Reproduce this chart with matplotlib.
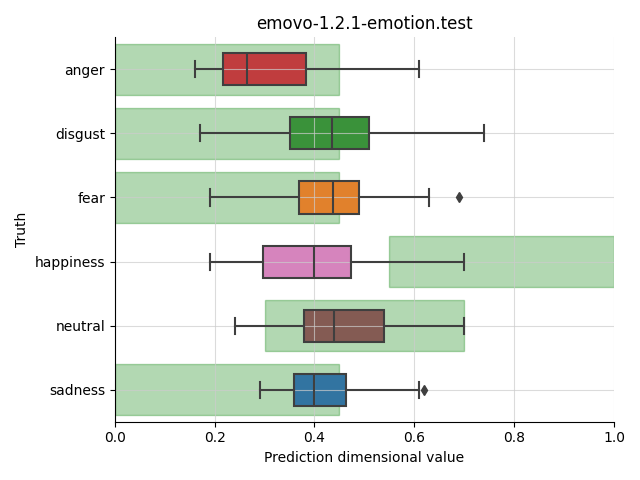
import matplotlib
matplotlib.use("Agg")
import matplotlib.pyplot as plt
import matplotlib.colors as mcolors
from matplotlib.patches import PathPatch
import colorsys

categories = ["anger", "disgust", "fear", "happiness", "neutral", "sadness"]
whislo = [0.160, 0.170, 0.190, 0.190, 0.240, 0.290]
q1 = [0.216, 0.351, 0.369, 0.296, 0.379, 0.359]
med = [0.264, 0.435, 0.438, 0.399, 0.439, 0.399]
q3 = [0.383, 0.510, 0.489, 0.473, 0.539, 0.464]
whishi = [0.609, 0.739, 0.629, 0.699, 0.699, 0.609]
fliers = [[], [], [0.689], [], [], [0.619]]
range_lo = [0.0, 0.0, 0.0, 0.55, 0.3, 0.0]
range_hi = [0.45, 0.45, 0.45, 1.0, 0.7, 0.45]
box_colors = ["tab:red", "tab:green", "tab:orange", "tab:pink", "tab:brown", "tab:blue"]


def desaturate(c, prop=0.75):
    r, g, b = mcolors.to_rgb(c)
    h, l, s = colorsys.rgb_to_hls(r, g, b)
    return colorsys.hls_to_rgb(h, l, s * prop)


fig, ax = plt.subplots(figsize=(6.4, 4.8), dpi=100)
pos = list(range(len(categories)))

ax.barh(pos, [h - l for l, h in zip(range_lo, range_hi)], left=range_lo, height=0.8,
        color="green", alpha=0.3, edgecolor="green", linewidth=1, zorder=1)

stats = []
for i, c in enumerate(categories):
    stats.append(dict(label=c, whislo=whislo[i], q1=q1[i], med=med[i], q3=q3[i],
                      whishi=whishi[i], fliers=fliers[i]))

lc = "#3f3f3f"
bp = ax.bxp(stats, positions=pos, vert=False, widths=0.5, patch_artist=True,
            boxprops=dict(edgecolor="none", linewidth=0),
            medianprops=dict(color=lc, linewidth=1.5),
            whiskerprops=dict(color=lc, linewidth=1.5),
            capprops=dict(color=lc, linewidth=1.5),
            flierprops=dict(marker="d", markerfacecolor=lc, markeredgecolor=lc, markersize=5),
            zorder=2)
for patch, col in zip(bp["boxes"], box_colors):
    patch.set_facecolor(desaturate(col))
    patch.set_zorder(2)
    outline = PathPatch(patch.get_path(), transform=patch.get_transform(),
                        facecolor="none", edgecolor=lc, linewidth=1.5, zorder=3)
    ax.add_patch(outline)
for key in ["whiskers", "caps", "medians", "fliers"]:
    for ln in bp[key]:
        ln.set_zorder(3)
for ln in bp["medians"]:
    ln.set_zorder(3.1)

ax.set_yticks(pos)
ax.set_yticklabels(categories)
ax.set_ylim(5.5, -0.5)
ax.set_xlim(0, 1)
ax.set_axisbelow(False)
ax.grid(True, color="#cccccc", alpha=0.7, linewidth=0.8)
for s in ["top", "right"]:
    ax.spines[s].set_visible(False)
for s in ["left", "bottom"]:
    ax.spines[s].set_zorder(4)
ax.set_title("emovo-1.2.1-emotion.test")
ax.set_xlabel("Prediction dimensional value")
ax.set_ylabel("Truth")
fig.tight_layout()
fig.savefig("out.png", dpi=100)
